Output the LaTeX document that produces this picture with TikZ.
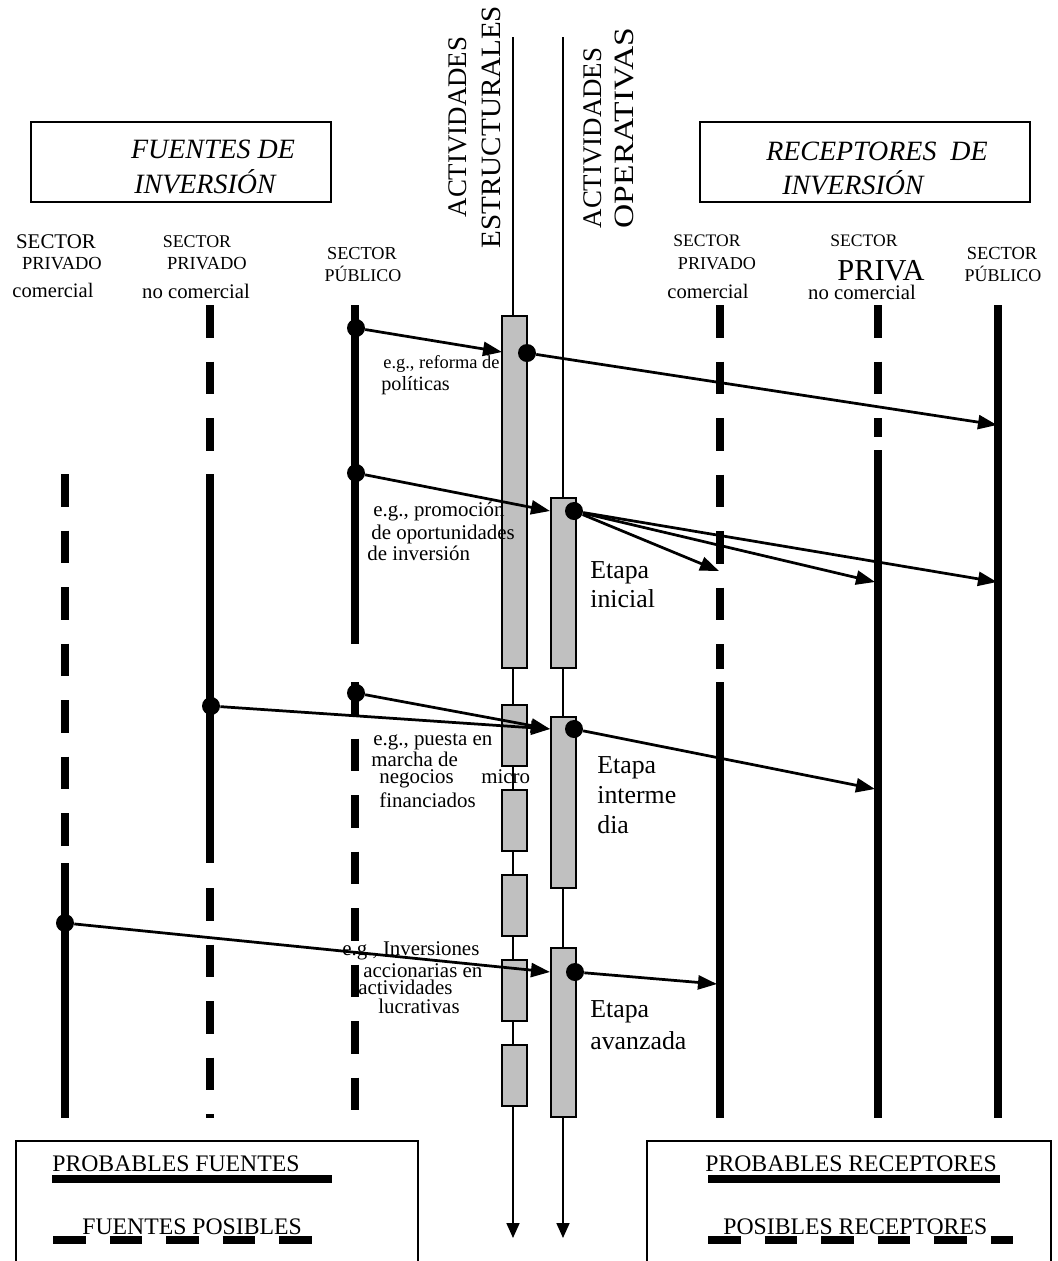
\documentclass[tikz,border=0pt]{standalone}
\usepackage{fontspec}
\setmainfont{Liberation Serif}
\usetikzlibrary{arrows.meta,fit}
\definecolor{barfill}{RGB}{192,192,192}

\begin{document}
\begin{tikzpicture}[
  x=0.2mm, y=-0.2mm,
  fs/.style={font=\fontsize{#1}{#1}\selectfont},
  topbox/.style={draw, line width=0.3mm, inner sep=0pt},
  legbox/.style={draw, line width=0.5mm},
  sure/.style={line width=1.6mm},
  maybe/.style={line width=1.6mm, dash pattern=on 6.5mm off 4.8mm},
  axis/.style={line width=0.35mm, -{Triangle[length=3mm,width=2.6mm]}},
  bar/.style={draw, fill=barfill, line width=0.3mm, inner sep=0pt},
  dot/.style={circle, fill, inner sep=0pt, minimum size=3.6mm},
  arr/.style={line width=0.55mm, -{Triangle[length=3.8mm,width=2.8mm]}}
]
\useasboundingbox (0,0) rectangle (1058,1261);

% cabeceras
\node[topbox, fit={(31,122) (331,202)}] (fuentes) {};
\node[topbox, fit={(700,122) (1030,202)}] (receptores) {};
\node[fs=15.9, anchor=base, inner sep=0pt] (fde) at (213,158) {\itshape FUENTES DE};
\node[fs=15.9, anchor=base, inner sep=0pt] (finv) at (205,193) {\itshape INVERSIÓN};
\node[fs=15.9, anchor=base, inner sep=0pt] (rde) at (877,160) {\itshape RECEPTORES\ \ DE};
\node[fs=15.9, anchor=base, inner sep=0pt] (rinv) at (853,194) {\itshape INVERSIÓN};

\node[fs=15.3, rotate=90, inner sep=0pt] (act1) at (457.5,127) {ACTIVIDADES};
\node[fs=15.9, rotate=90, inner sep=0pt] (estr) at (491,127) {\scalebox{1.04}[1]{ESTRUCTURALES}};
\node[fs=15.3, rotate=90, inner sep=0pt] (act2) at (592.5,138) {ACTIVIDADES};
\node[fs=15.9, rotate=90, inner sep=0pt] (oper) at (624,128) {\scalebox{1.2}[1]{OPERATIVAS}};

% sectores
\foreach \px/\py/\fs/\tx [count=\i] in {
  56/248/11.9/SECTOR, 62/269/10.5/PRIVADO, 53/297/11.7/comercial,
  197/247/10.2/SECTOR, 207/269/10.5/PRIVADO, 196/298/11.8/no comercial,
  362/259/10.4/SECTOR, 363/281/10.2/PÚBLICO,
  707/246/10/SECTOR, 717/269/10.3/PRIVADO, 708/298/11.7/comercial,
  864/246/10/SECTOR, 881/280/17.3/PRIVA, 862/299/11.8/no comercial,
  1002/259/10.5/SECTOR, 1003/281/10.2/PÚBLICO}
  \node[fs=\fs, anchor=base, inner sep=0pt] (sec\i) at (\px,\py) {\tx};

% lineas de fuentes
\draw[maybe] (65,474) -- (65,849);
\draw[sure] (65,863) -- (65,1118);
\draw[maybe] (210,305) -- (210,452);
\draw[sure] (210,474) -- (210,863);
\draw[maybe] (210,888) -- (210,1118);
\draw[sure] (355,305) -- (355,644);
\draw[maybe] (355,682) -- (355,1118);
% lineas de receptores
\draw[maybe] (720,305) -- (720,669);
\draw[sure] (720,682) -- (720,1118);
\draw[maybe] (878,305) -- (878,437);
\draw[sure] (878,450) -- (878,1118);
\draw[sure] (998,305) -- (998,1118);

% actividades
\draw[axis] (513,37) -- (513,1238);
\draw[axis] (563,37) -- (563,1238);
\node[bar, fit={(502,316) (527,668)}] (e0) {};
\foreach \top [count=\i] in {705,790,875,960,1045}
  \node[bar, fit={(502,\top) (527,\top+61)}] (e\i) {};
\node[bar, fit={(551,498) (576,668)}] (o1) {};
\node[bar, fit={(551,717) (576,888)}] (o2) {};
\node[bar, fit={(551,948) (576,1117)}] (o3) {};

% ejemplos
\foreach \px/\py/\fs/\tx [count=\i] in {
  383/368/10.5/{e.g., reforma de}, 381/390/11.5/políticas,
  373/516/11.9/{e.g., promoción}, 371/539/11.9/{de oportunidades}, 367/560/11.9/{de inversión},
  373/745/11.9/{e.g., puesta en}, 371/766/11.9/{marcha de}, 379/783/11.9/negocios, 481/783/11.9/micro, 379/807/11.9/financiados,
  342/955/11.9/{e.g., Inversiones}, 363/977/11.9/{accionarias en}, 358/994/11.9/actividades, 378/1013/11.9/lucrativas}
  \node[fs=\fs, anchor=base west, inner sep=0pt] (eg\i) at (\px,\py) {\tx};

\foreach \px/\py/\tx [count=\i] in {590/578/Etapa, 590/607/inicial, 597/773/Etapa, 597/803/interme, 597/833/dia, 590/1017/Etapa, 590/1049/avanzada}
  \node[fs=14.7, anchor=base west, inner sep=0pt] (et\i) at (\px,\py) {\tx};

% flujos
\foreach \px/\py/\nm in {356/328/a, 356/473/b, 356/693/c, 211/706/d, 65/923/e, 527/353/f, 574/511/g, 574/729/h, 575/972/k}
  \node[dot] (dot\nm) at (\px,\py) {};
\coordinate (ta) at (502,352);
\coordinate (tb) at (550,511);
\coordinate (tc) at (550,729);
\coordinate (te) at (550,972);
\coordinate (tf) at (997,425);
\coordinate (tg1) at (719,571);
\coordinate (tg2) at (875,582);
\coordinate (tg3) at (997,582);
\coordinate (th) at (875,789);
\coordinate (tk) at (717,984);

\draw[arr] (dota) -- (ta);
\draw[arr] (dotf) -- (tf);
\draw[arr] (dotb) -- (tb);
\draw[arr] (dotg) -- (tg1);
\draw[arr] (dotg) -- (tg2);
\draw[arr] (dotg) -- (tg3);
\draw[arr] (dotc) -- (tc);
\draw[arr] (dotd) -- (tc);
\draw[arr] (doth) -- (th);
\draw[arr] (dote) -- (te);
\draw[arr] (dotk) -- (tk);

% leyendas
\draw[legbox] (16,1270) |- (418,1141) -- (418,1270);
\draw[legbox] (647,1270) |- (1051,1141) -- (1051,1270);
\node[fs=13.5, anchor=base west, inner sep=0pt] (probf) at (52,1171) {PROBABLES FUENTES};
\node[fs=13.5, anchor=base west, inner sep=0pt] (posf) at (82,1234) {FUENTES POSIBLES};
\node[fs=13.5, anchor=base west, inner sep=0pt] (probr) at (705,1171) {PROBABLES RECEPTORES};
\node[fs=13.5, anchor=base west, inner sep=0pt] (posr) at (723,1234) {POSIBLES RECEPTORES};
\draw[sure] (52,1179) -- (332,1179);
\draw[maybe] (53,1239.5) -- (312,1239.5);
\draw[sure] (708,1179) -- (1000,1179);
\draw[maybe] (708,1239.5) -- (1013,1239.5);
\end{tikzpicture}
\end{document}
